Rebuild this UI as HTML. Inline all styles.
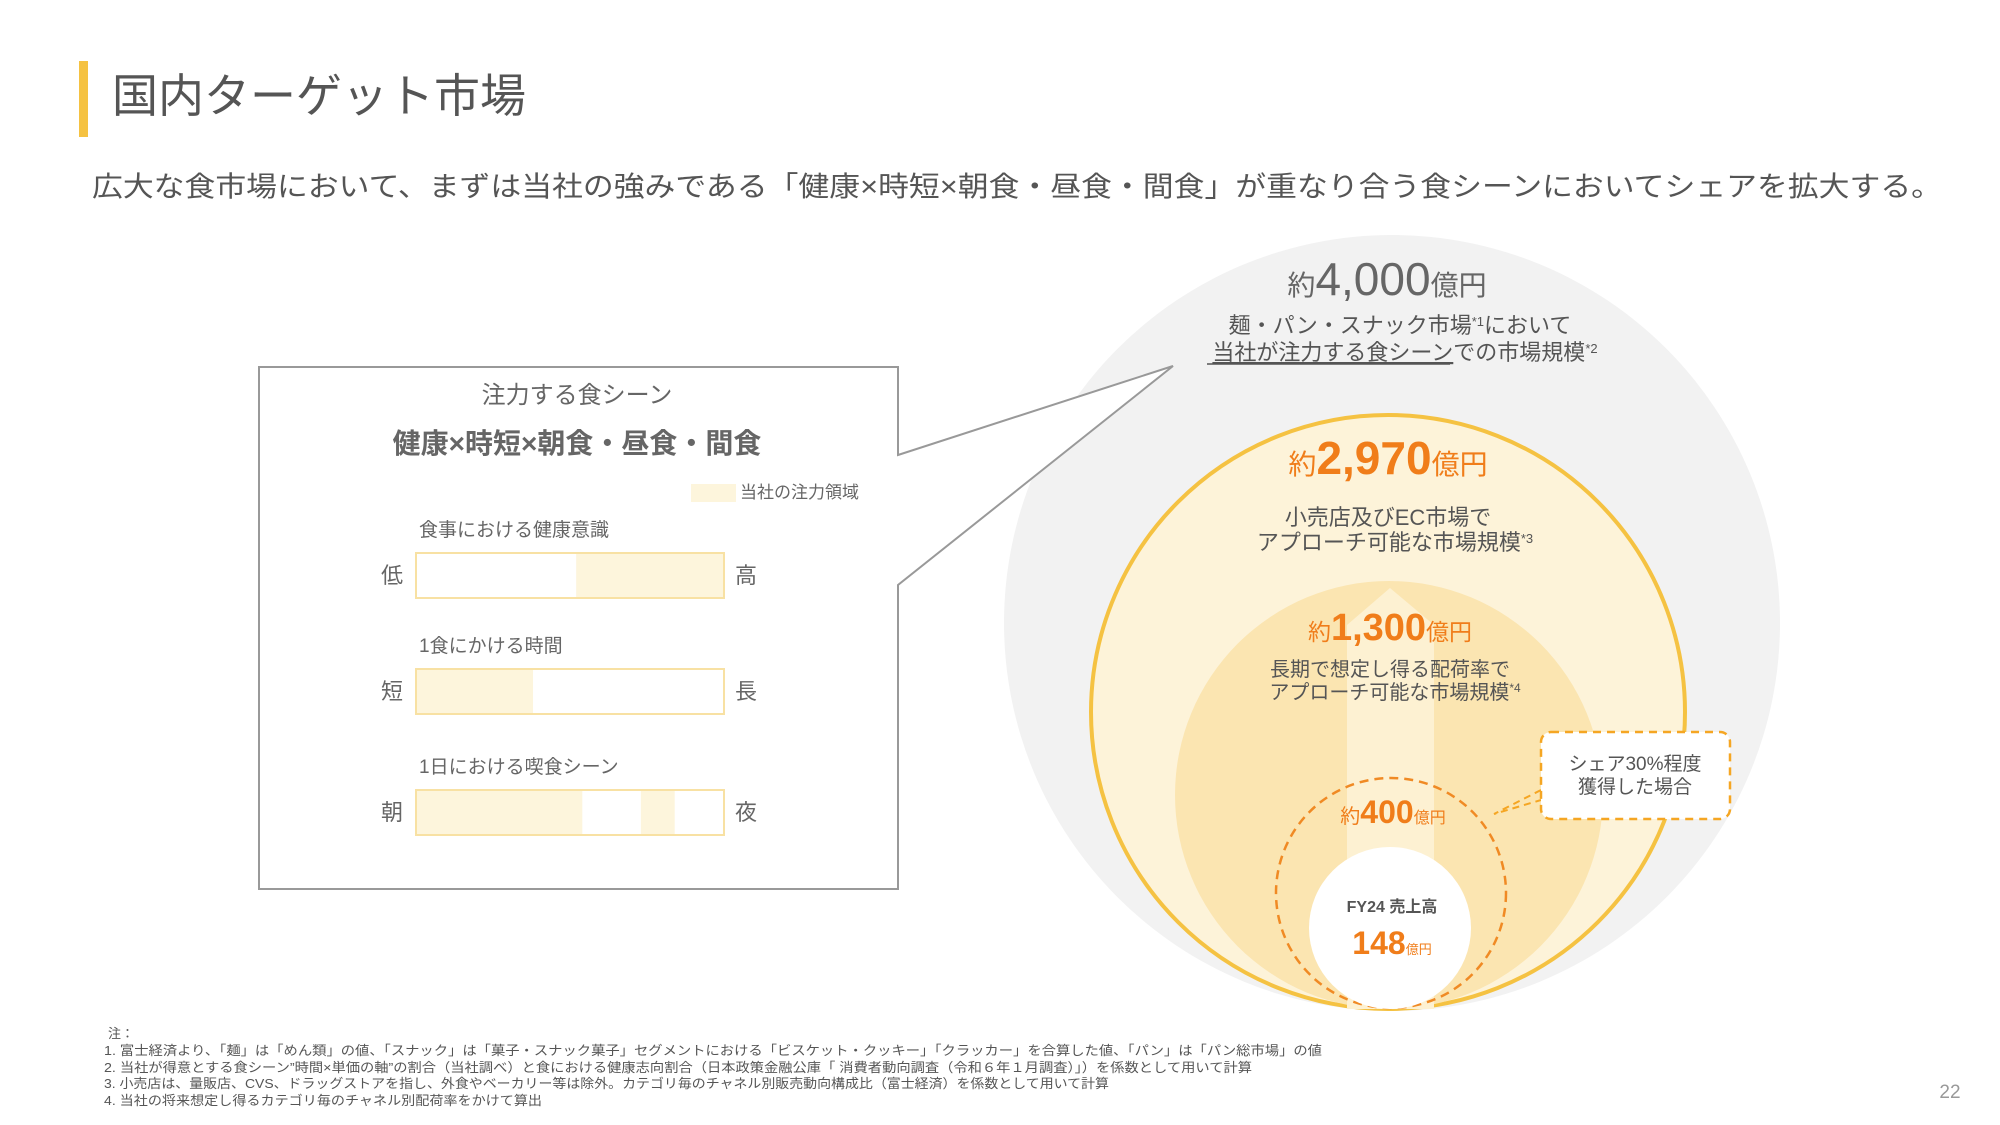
<!DOCTYPE html>
<html><head><meta charset="utf-8"><style>
html,body{margin:0;padding:0;background:#fff;}
svg{display:block;font-family:"Liberation Sans","Noto Sans CJK JP",sans-serif;}
</style></head><body>
<svg id="s" width="2000" height="1125" viewBox="0 0 2000 1125">
<rect x="0" y="0" width="2000" height="1125" fill="#fff"/>
<rect x="79" y="61" width="9" height="76" fill="#f5c242"/>
<text x="112" y="112" font-size="46" fill="#555">国内ターゲット市場</text>
<text x="92" y="196" font-size="28" fill="#555" textLength="1850" lengthAdjust="spacingAndGlyphs">広大な食市場において、まずは当社の強みである「健康×時短×朝食・昼食・間食」が重なり合う食シーンにおいてシェアを拡大する。</text>

<!-- market circles -->
<g>
<circle cx="1392" cy="623" r="388" fill="#f2f2f2"/>
<circle cx="1388" cy="712" r="297" fill="#fdf3d9" stroke="#f5c242" stroke-width="4"/>
<circle cx="1389" cy="795" r="214" fill="#fbe5b1"/>
<polygon points="1347,1009 1347,625 1390,588 1434,625 1434,1009" fill="#fdf1d2"/>
<circle cx="1391" cy="893" r="115" fill="none" stroke="#f08a24" stroke-width="2.5" stroke-dasharray="9,6"/>
<circle cx="1390" cy="928" r="81" fill="#fff"/>

<text x="1387" y="295" text-anchor="middle" fill="#666"><tspan font-size="28">約</tspan><tspan font-size="46">4,000</tspan><tspan font-size="28">億円</tspan></text>
<text x="1400" y="333" text-anchor="middle" font-size="22" fill="#555">麺・パン・スナック市場<tspan font-size="13" dy="-7">*1</tspan><tspan dy="7">において</tspan></text>
<text x="1405" y="360" text-anchor="middle" font-size="22" fill="#555"><tspan text-decoration="underline">当社が注力する食シーン</tspan>での市場規模<tspan font-size="13" dy="-7">*2</tspan></text>
<line x1="1207" y1="364" x2="1450" y2="364" stroke="#555" stroke-width="1.5"/>

<text x="1388" y="474" text-anchor="middle" fill="#f07d1a" font-weight="bold"><tspan font-size="28" font-weight="normal">約</tspan><tspan font-size="46">2,970</tspan><tspan font-size="28" font-weight="normal">億円</tspan></text>
<text x="1388" y="525" text-anchor="middle" font-size="22" fill="#555">小売店及びEC市場で</text>
<text x="1395" y="550" text-anchor="middle" font-size="22" fill="#555">アプローチ可能な市場規模<tspan font-size="13" dy="-7">*3</tspan></text>

<text x="1390" y="640" text-anchor="middle" fill="#f07d1a" font-weight="bold"><tspan font-size="23" font-weight="normal">約</tspan><tspan font-size="38">1,300</tspan><tspan font-size="23" font-weight="normal">億円</tspan></text>
<text x="1390" y="676" text-anchor="middle" font-size="20" fill="#555">長期で想定し得る配荷率で</text>
<text x="1395" y="699" text-anchor="middle" font-size="20" fill="#555">アプローチ可能な市場規模<tspan font-size="12" dy="-7">*4</tspan></text>

<text x="1393" y="823" text-anchor="middle" fill="#f07d1a" font-weight="bold"><tspan font-size="20" font-weight="normal">約</tspan><tspan font-size="32">400</tspan><tspan font-size="16" font-weight="normal">億円</tspan></text>
<text x="1392" y="912" text-anchor="middle" font-size="16" font-weight="bold" fill="#555">FY24 売上高</text>
<text x="1392" y="954" text-anchor="middle" fill="#f07d1a" font-weight="bold"><tspan font-size="32">148</tspan><tspan font-size="13" font-weight="normal">億円</tspan></text>

<path d="M1541,790 L1494,814 L1541,800" fill="none" stroke="#f5a623" stroke-width="2" stroke-dasharray="7,5"/>
<rect x="1541" y="732" width="189" height="87" rx="10" fill="#fff" stroke="#f5a623" stroke-width="2.5" stroke-dasharray="8,6"/>
<text x="1635" y="770" text-anchor="middle" font-size="19" fill="#555">シェア30%程度</text>
<text x="1635" y="793" text-anchor="middle" font-size="19" fill="#555">獲得した場合</text>
</g>

<!-- speech box -->
<path d="M898,455 L1173,366 L898,585 L898,889 L259,889 L259,367 L898,367 Z" fill="#fff" stroke="#999" stroke-width="2"/>
<text x="577" y="403" text-anchor="middle" font-size="24" fill="#666">注力する食シーン</text>
<text x="577" y="453" text-anchor="middle" font-size="28" font-weight="bold" fill="#666">健康×時短×朝食・昼食・間食</text>
<rect x="691" y="484" width="45" height="18" fill="#fdf5dc"/>
<text x="740" y="498" font-size="17" fill="#666">当社の注力領域</text>
<g id="bars"></g>

<!-- footnotes -->
<g font-size="13" fill="#555">
<text x="108" y="1038">注：</text>
<text x="104" y="1055" textLength="1218" lengthAdjust="spacingAndGlyphs">1. 富士経済より、「麺」は「めん類」の値、「スナック」は「菓子・スナック菓子」セグメントにおける「ビスケット・クッキー」「クラッカー」を合算した値、「パン」は「パン総市場」の値</text>
<text x="104" y="1072" textLength="1148" lengthAdjust="spacingAndGlyphs">2. 当社が得意とする食シーン”時間×単価の軸”の割合（当社調べ）と食における健康志向割合（日本政策金融公庫「 消費者動向調査（令和６年１月調査）」）を係数として用いて計算</text>
<text x="104" y="1088" textLength="1005" lengthAdjust="spacingAndGlyphs">3. 小売店は、量販店、CVS、ドラッグストアを指し、外食やベーカリー等は除外。カテゴリ毎のチャネル別販売動向構成比（富士経済）を係数として用いて計算</text>
<text x="104" y="1105" textLength="438" lengthAdjust="spacingAndGlyphs">4. 当社の将来想定し得るカテゴリ毎のチャネル別配荷率をかけて算出</text>
</g>
<text x="1950" y="1098" text-anchor="middle" font-size="19" fill="#999">22</text>
</svg>
<script>
const rowTitles = ["食事における健康意識", "1食にかける時間", "1日における喫食シーン"];
const lowLabels = ["低", "短", "朝"];
const highLabels = ["高", "長", "夜"];
const focusStarts = [[0.52], [0], [0, 0.73]];
const focusEnds = [[1], [0.38], [0.54, 0.84]];
const NS = "http://www.w3.org/2000/svg";
const g = document.getElementById("bars");
const barX0 = 416, barW = 308, barH = 45;
const rowY = [553, 669, 790];
function xScale(v){ return barX0 + v * barW; }
function mk(tag, attrs){ const e = document.createElementNS(NS, tag); for (const k in attrs) e.setAttribute(k, attrs[k]); g.appendChild(e); return e; }
rowTitles.forEach((t, i) => {
  const y = rowY[i];
  const tt = mk("text", {x: 419, y: y - 17, "font-size": 19, fill: "#666"});
  tt.textContent = t;
  
  
  const bg = mk("rect", {x: xScale(0), y: y, width: barW, height: barH, fill: "#fff"});
  
  
  focusStarts[i].forEach((s, j) => {
    const r = mk("rect", {x: xScale(s), y: y, width: xScale(focusEnds[i][j]) - xScale(s), height: barH, fill: "#fdf5dc"});
    
    
  });
  const bd = mk("rect", {x: xScale(0), y: y, width: barW, height: barH, fill: "none", stroke: "#f8e1a3", "stroke-width": 2});
  
  
  const lo = mk("text", {x: xScale(0) - 24, y: y + 30, "font-size": 22, fill: "#666", "text-anchor": "middle"});
  lo.textContent = lowLabels[i];
  
  
  const hi = mk("text", {x: xScale(1) + 22, y: y + 30, "font-size": 22, fill: "#666", "text-anchor": "middle"});
  hi.textContent = highLabels[i];
  
  
});
</script>
</body></html>
